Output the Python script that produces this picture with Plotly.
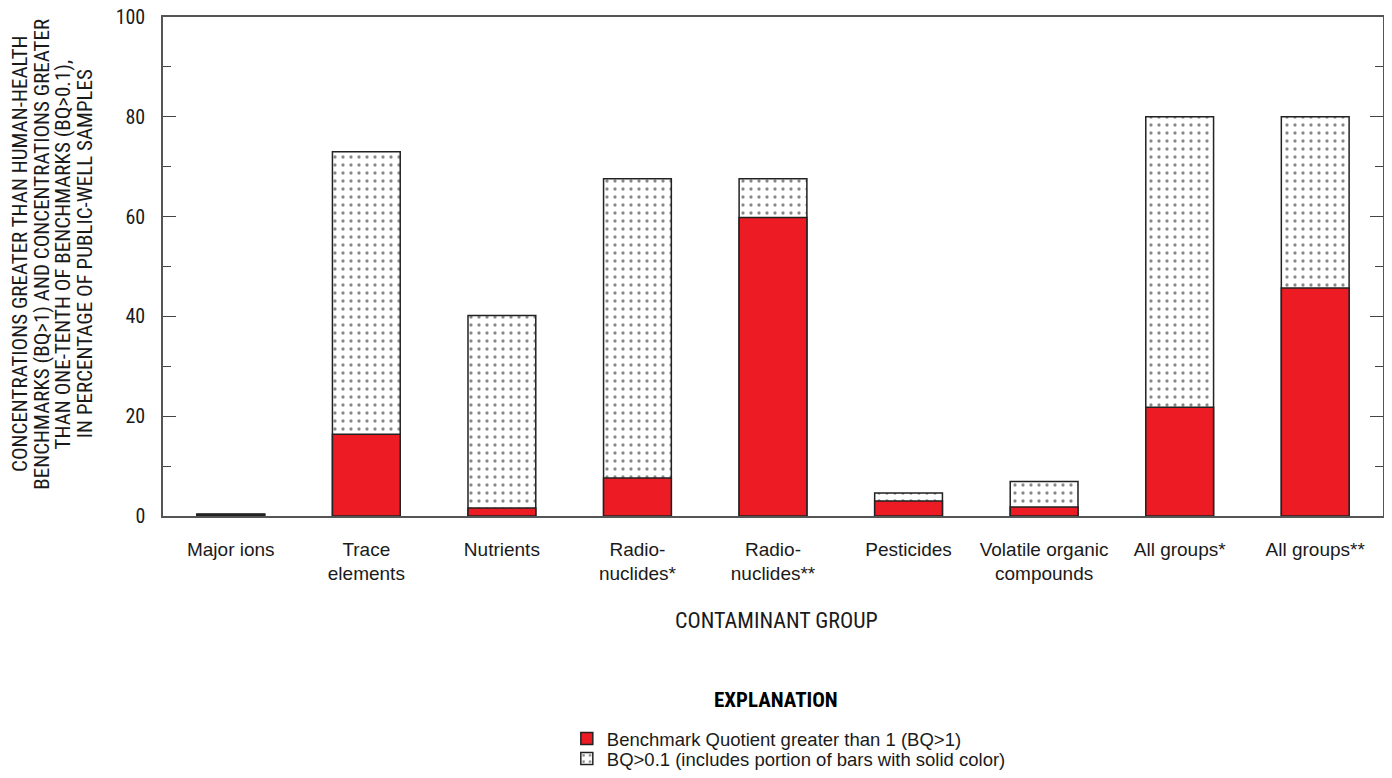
import plotly.graph_objects as go

categories = ["Major ions", "Trace<br>elements", "Nutrients", "Radio-<br>nuclides*", "Radio-<br>nuclides**",
              "Pesticides", "Volatile organic<br>compounds", "All groups*", "All groups**"]
bq_gt_01 = [0.4, 73.0, 40.2, 67.6, 67.6, 4.6, 6.9, 80.0, 80.0]
bq_gt_1 = [0.3, 16.4, 1.6, 7.6, 59.8, 3.0, 1.8, 21.8, 45.7]
y_title_lines = ["CONCENTRATIONS GREATER THAN HUMAN-HEALTH",
                 "BENCHMARKS (BQ>1) AND CONCENTRATIONS GREATER",
                 "THAN ONE-TENTH OF BENCHMARKS (BQ>0.1),",
                 "IN PERCENTAGE OF PUBLIC-WELL SAMPLES"]

NARROW = "Roboto Condensed, Liberation Sans Narrow, Arial Narrow, sans-serif"
SANS = "Liberation Sans, Arial, sans-serif"
RED = "#ED1C24"
INK = "#1a1a1a"

fig = go.Figure()
fig.add_trace(go.Bar(
    x=categories, y=bq_gt_01, name="BQ>0.1 (includes portion of bars with solid color)",
    marker=dict(color="white", line=dict(color="#222", width=1.5),
                pattern=dict(shape=".", fgcolor="#111", bgcolor="white", size=8, solidity=0.13)),
    width=0.5, legend="legend2",
))
fig.add_trace(go.Bar(
    x=categories, y=bq_gt_1, name="Benchmark Quotient greater than 1 (BQ>1)",
    marker=dict(color=RED, line=dict(color="#222", width=1.5)),
    width=0.5, legend="legend",
))

legend_common = dict(xanchor="left", yanchor="middle", font=dict(family=SANS, size=18.5, color=INK),
                     itemwidth=30, bgcolor="rgba(0,0,0,0)")
fig.update_layout(
    width=1376, height=762,
    barmode="overlay",
    plot_bgcolor="white", paper_bgcolor="white",
    font=dict(family=NARROW, size=20, color=INK),
    margin=dict(l=155, r=1, t=9, b=254, autoexpand=False),
    showlegend=True,
    legend=dict(x=0.331, y=-0.447, **legend_common),
    legend2=dict(x=0.331, y=-0.487, **legend_common),
    xaxis=dict(showline=True, linecolor="#555", linewidth=1.5, mirror=True, ticks="",
               tickfont=dict(family=SANS, size=19, color=INK), ticklabelstandoff=15,
               range=[-0.5, 8.5], tickangle=0, automargin=False),
    yaxis=dict(range=[0, 100], showline=True, linecolor="#555", linewidth=1.5, mirror="ticks",
               ticks="inside", ticklen=13, tickcolor="#444", tickwidth=1.3, dtick=20,
               showgrid=False, zeroline=False, tickfont=dict(family=NARROW, size=20, color=INK),
               ticklabelstandoff=12, ticklabeloverflow="allow", automargin=False,
               minor=dict(ticks="inside", ticklen=8, dtick=10, tickcolor="#444", tickwidth=1.3,
                          showgrid=False)),
)

# y-axis title, one annotation per line (line centres at 20, 42, 63, 85 px from the page left)
for i, line in enumerate(y_title_lines):
    fig.add_annotation(
        xref="paper", yref="paper", x=0, y=0.525, xshift=-143 + 21.7 * i, textangle=-90,
        showarrow=False, text=line, font=dict(family=NARROW, size=21, color=INK),
        xanchor="center", yanchor="middle",
    )
fig.add_annotation(
    xref="paper", yref="paper", x=0.5, y=0, xshift=3, yshift=-104, showarrow=False, yanchor="middle",
    text="CONTAMINANT GROUP", font=dict(family=NARROW, size=22, color=INK),
)
fig.add_annotation(
    xref="paper", yref="paper", x=0.5, y=0, xshift=3, yshift=-184, showarrow=False, yanchor="middle",
    text="<b>EXPLANATION</b>", font=dict(family=NARROW, size=21, color="#000"),
)

fig.write_html("out.html")
